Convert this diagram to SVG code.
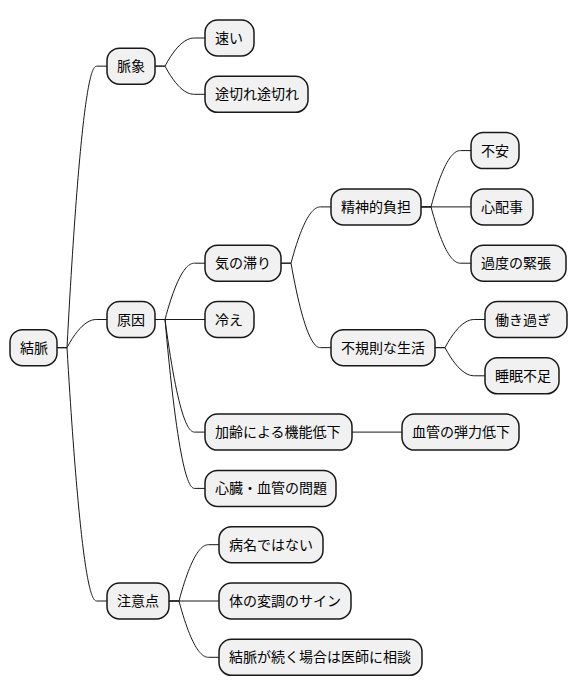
<svg xmlns="http://www.w3.org/2000/svg" width="572" height="696" viewBox="0 0 572 696">
<style>
.n rect{fill:#F1F1F1;stroke:#181818;stroke-width:1.5}
.n text{font-family:"Noto Sans CJK JP","Noto Sans CJK SC",sans-serif;font-size:14px;fill:#000}
#connectors path{fill:none;stroke:#181818;stroke-width:1}
</style>
<rect width="572" height="696" fill="#FFFFFF"/>
<g id="connectors">
<path d="M57,347.65 H67 C82,66.15 93,66.15 97,66.15 H107"/>
<path d="M57,347.65 H67 C82,319.5 93,319.5 97,319.5 H107"/>
<path d="M57,347.65 H67 C82,601 93,601 97,601 H107"/>
<path d="M155,66.15 H165 C180,38 191,38 195,38 H205"/>
<path d="M155,66.15 H165 C180,94.3 191,94.3 195,94.3 H205"/>
<path d="M155,319.5 H165 C180,263.2 191,263.2 195,263.2 H205"/>
<path d="M155,319.5 H205"/>
<path d="M155,319.5 H165 C180,432.1 191,432.1 195,432.1 H205"/>
<path d="M155,319.5 H165 C180,488.4 191,488.4 195,488.4 H205"/>
<path d="M281,263.2 H291 C306,206.9 317,206.9 321,206.9 H331"/>
<path d="M281,263.2 H291 C306,347.65 317,347.65 321,347.65 H331"/>
<path d="M421,206.9 H431 C446,150.6 457,150.6 461,150.6 H471"/>
<path d="M421,206.9 H471"/>
<path d="M421,206.9 H431 C446,263.2 457,263.2 461,263.2 H471"/>
<path d="M435,347.65 H445 C460,319.5 471,319.5 475,319.5 H485"/>
<path d="M435,347.65 H445 C460,375.8 471,375.8 475,375.8 H485"/>
<path d="M352,432.1 H402"/>
<path d="M169,601 H179 C194,544.7 205,544.7 209,544.7 H219"/>
<path d="M169,601 H219"/>
<path d="M169,601 H179 C194,657.3 205,657.3 209,657.3 H219"/>
</g>
<g id="n-root" class="n"><rect x="10" y="329.65" width="47" height="36" rx="12.5"/><text x="20" y="352.65">結脈</text></g>
<g id="n-myakusho" class="n"><rect x="107" y="48.15" width="48" height="36" rx="12.5"/><text x="117" y="71.15">脈象</text></g>
<g id="n-hayai" class="n"><rect x="205" y="20" width="49" height="36" rx="12.5"/><text x="215" y="43">速い</text></g>
<g id="n-togire" class="n"><rect x="205" y="76.3" width="103" height="36" rx="12.5"/><text x="215" y="99.3">途切れ途切れ</text></g>
<g id="n-genin" class="n"><rect x="107" y="301.5" width="48" height="36" rx="12.5"/><text x="117" y="324.5">原因</text></g>
<g id="n-ki" class="n"><rect x="205" y="245.2" width="76" height="36" rx="12.5"/><text x="215" y="268.2">気の滞り</text></g>
<g id="n-seishin" class="n"><rect x="331" y="188.9" width="90" height="36" rx="12.5"/><text x="341" y="211.9">精神的負担</text></g>
<g id="n-fuan" class="n"><rect x="471" y="132.6" width="48" height="36" rx="12.5"/><text x="481" y="155.6">不安</text></g>
<g id="n-shinpai" class="n"><rect x="471" y="188.9" width="62" height="36" rx="12.5"/><text x="481" y="211.9">心配事</text></g>
<g id="n-kinchou" class="n"><rect x="471" y="245.2" width="95" height="36" rx="12.5"/><text x="481" y="268.2">過度の緊張</text></g>
<g id="n-fukisoku" class="n"><rect x="331" y="329.65" width="104" height="36" rx="12.5"/><text x="341" y="352.65">不規則な生活</text></g>
<g id="n-hataraki" class="n"><rect x="485" y="301.5" width="82" height="36" rx="12.5"/><text x="495" y="324.5">働き過ぎ</text></g>
<g id="n-suimin" class="n"><rect x="485" y="357.8" width="74" height="36" rx="12.5"/><text x="495" y="380.8">睡眠不足</text></g>
<g id="n-hie" class="n"><rect x="205" y="301.5" width="49" height="36" rx="12.5"/><text x="215" y="324.5">冷え</text></g>
<g id="n-karei" class="n"><rect x="205" y="414.1" width="147" height="36" rx="12.5"/><text x="215" y="437.1">加齢による機能低下</text></g>
<g id="n-kekkan" class="n"><rect x="402" y="414.1" width="117" height="36" rx="12.5"/><text x="412" y="437.1">血管の弾力低下</text></g>
<g id="n-shinzou" class="n"><rect x="205" y="470.4" width="131" height="36" rx="12.5"/><text x="215" y="493.4">心臓・血管の問題</text></g>
<g id="n-chuui" class="n"><rect x="107" y="583" width="62" height="36" rx="12.5"/><text x="117" y="606">注意点</text></g>
<g id="n-byoumei" class="n"><rect x="219" y="526.7" width="104" height="36" rx="12.5"/><text x="229" y="549.7">病名ではない</text></g>
<g id="n-henchou" class="n"><rect x="219" y="583" width="132" height="36" rx="12.5"/><text x="229" y="606">体の変調のサイン</text></g>
<g id="n-soudan" class="n"><rect x="219" y="639.3" width="203" height="36" rx="12.5"/><text x="229" y="662.3">結脈が続く場合は医師に相談</text></g>
</svg>
